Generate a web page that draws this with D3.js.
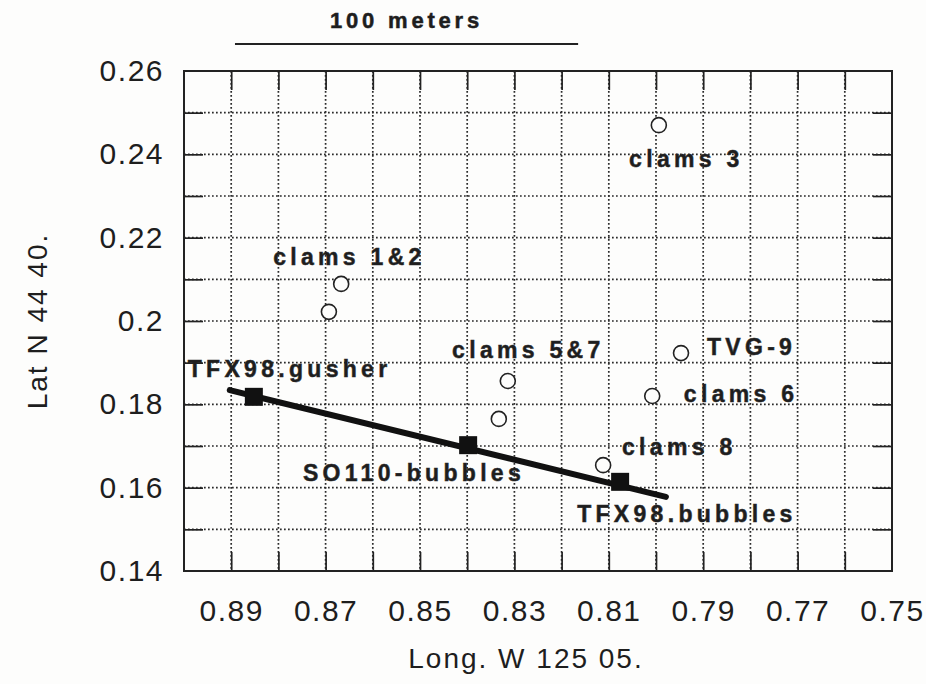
<!DOCTYPE html>
<html>
<head>
<meta charset="utf-8">
<script src="https://cdn.jsdelivr.net/npm/d3@7"></script>
<style>
body { margin: 0; background: #fff; }
text { font-family: "Liberation Sans", Arial, Helvetica, sans-serif; fill: #1e1e1e; }
</style>
</head>
<body>
<svg id="chart" width="926" height="684"></svg>
<script>
// clam sites (open circles)
const clamLon = [0.8667, 0.8693, 0.8314, 0.8333, 0.7994, 0.7947, 0.8008, 0.8112]
const clamLat = [0.2089, 0.2022, 0.1856, 0.1765, 0.2470, 0.1923, 0.1820, 0.1654]

// bubble / gusher sites (filled squares)
const ventNames = ['TFX98.gusher', 'SO110-bubbles', 'TFX98.bubbles']
const ventLon = [0.8852, 0.8398, 0.8076]
const ventLat = [0.1818, 0.1702, 0.1614]

// trend line through the vents
const trendLon = [0.8903, 0.7979]
const trendLat = [0.1834, 0.1578]

// text annotations, anchored at their start / baseline
const labelText = ['TFX98.gusher', 'clams 1&2', 'clams 5&7', 'SO110-bubbles', 'TFX98.bubbles',
                   'clams 8', 'clams 6', 'TVG-9', 'clams 3']
const labelLon = [0.8992, 0.8811, 0.8432, 0.8748, 0.8167, 0.8072, 0.7941, 0.7892, 0.8057]
const labelLat = [0.1866, 0.2134, 0.1911, 0.1616, 0.1518, 0.1678, 0.1806, 0.1918, 0.2370]

// 100 m scale bar
const scaleBarLon = [0.8892, 0.8165]
const scaleBarText = '100  meters'

// ticks
const lonTicks = [0.89, 0.88, 0.87, 0.86, 0.85, 0.84, 0.83, 0.82, 0.81, 0.80, 0.79, 0.78, 0.77, 0.76]
const lonLabelValues = [0.89, 0.87, 0.85, 0.83, 0.81, 0.79, 0.77, 0.75]
const lonLabelText = ['0.89', '0.87', '0.85', '0.83', '0.81', '0.79', '0.77', '0.75']
const latTicks = [0.15, 0.16, 0.17, 0.18, 0.19, 0.20, 0.21, 0.22, 0.23, 0.24, 0.25]
const latLabelValues = [0.14, 0.16, 0.18, 0.20, 0.22, 0.24, 0.26]
const latLabelText = ['0.14', '0.16', '0.18', '0.2', '0.22', '0.24', '0.26']

const xTitle = 'Long. W 125 05.'
const yTitle = 'Lat N 44 40.'

const svg = d3.select('#chart')
const plotLeft = 184, plotRight = 892, plotTop = 71, plotBottom = 571

const x = d3.scaleLinear().domain([0.90, 0.75]).range([plotLeft, plotRight])
const y = d3.scaleLinear().domain([0.14, 0.26]).range([plotBottom, plotTop])

svg.append('rect')
.attr('width', 926)
.attr('height', 684)
.attr('fill', '#fdfdfc')

////////////////////////////
/// dotted grid
////////////////////////////
const grid = svg.append('g')
.attr('stroke', '#2a2a2a')
.attr('stroke-width', 1.7)
.attr('stroke-dasharray', '1.7,2.3')

grid.selectAll('.vgrid')
.data(lonTicks)
.enter()
.append('line')
.attr('x1', d => x(d))
.attr('x2', d => x(d))
.attr('y1', plotTop)
.attr('y2', plotBottom)

grid.selectAll('.hgrid')
.data(latTicks)
.enter()
.append('line')
.attr('x1', plotLeft)
.attr('x2', plotRight)
.attr('y1', d => y(d))
.attr('y2', d => y(d))

////////////////////////////
/// inward tick marks on all four sides
////////////////////////////
const tick = 19
function styleAxis(g){
    g.select('.domain').remove()
    g.selectAll('line').attr('stroke', '#222').attr('stroke-width', 1.7)
    g.selectAll('text').remove()
}
svg.append('g').attr('transform', 'translate(0,' + plotBottom + ')')
.call(d3.axisBottom(x).tickValues(lonTicks).tickSize(-tick)).call(styleAxis)
svg.append('g').attr('transform', 'translate(0,' + plotTop + ')')
.call(d3.axisTop(x).tickValues(lonTicks).tickSize(-tick)).call(styleAxis)
svg.append('g').attr('transform', 'translate(' + plotLeft + ',0)')
.call(d3.axisLeft(y).tickValues(latTicks).tickSize(-tick)).call(styleAxis)
svg.append('g').attr('transform', 'translate(' + plotRight + ',0)')
.call(d3.axisRight(y).tickValues(latTicks).tickSize(-tick)).call(styleAxis)

// frame
svg.append('rect')
.attr('x', plotLeft)
.attr('y', plotTop)
.attr('width', plotRight - plotLeft)
.attr('height', plotBottom - plotTop)
.attr('fill', 'none')
.attr('stroke', '#222')
.attr('stroke-width', 2)

////////////////////////////
/// tick labels
////////////////////////////
const xLab = svg.append('g')
.attr('transform', 'translate(0,' + plotBottom + ')')
.call(d3.axisBottom(x).tickValues(lonLabelValues).tickSize(0).tickPadding(29)
    .tickFormat((d, i) => lonLabelText[i]))
xLab.select('.domain').remove()
xLab.selectAll('text')
.attr('font-size', 30)
.attr('letter-spacing', 1.5)
.attr('fill', '#1e1e1e')

const yLab = svg.append('g')
.attr('transform', 'translate(' + plotLeft + ',0)')
.call(d3.axisLeft(y).tickValues(latLabelValues).tickSize(0).tickPadding(20)
    .tickFormat((d, i) => latLabelText[i]))
yLab.select('.domain').remove()
yLab.selectAll('text')
.attr('font-size', 30)
.attr('letter-spacing', 1.5)
.attr('fill', '#1e1e1e')

// axis titles
svg.append('text')
.attr('x', (plotLeft + plotRight) / 2 - 12)
.attr('y', 668)
.attr('text-anchor', 'middle')
.attr('font-size', 28)
.attr('letter-spacing', 2)
.text(xTitle)

svg.append('text')
.attr('transform', 'translate(47,' + ((plotTop + plotBottom) / 2) + ') rotate(-90)')
.attr('text-anchor', 'middle')
.attr('font-size', 28)
.attr('letter-spacing', 2)
.text(yTitle)

////////////////////////////
/// scale bar
////////////////////////////
svg.append('line')
.attr('x1', x(scaleBarLon[0]))
.attr('x2', x(scaleBarLon[1]))
.attr('y1', 44)
.attr('y2', 44)
.attr('stroke', '#222')
.attr('stroke-width', 1.8)

svg.append('text')
.attr('x', (x(scaleBarLon[0]) + x(scaleBarLon[1])) / 2)
.attr('y', 28)
.attr('text-anchor', 'middle')
.attr('font-size', 22)
.attr('font-weight', 'bold')
.attr('letter-spacing', 3.8)
.attr('stroke', '#1e1e1e')
.attr('stroke-width', 0.5)
.text(scaleBarText)

////////////////////////////
/// trend line, vents, clams
////////////////////////////
const trend = trendLon.map((d, i) => [d, trendLat[i]])
svg.append('path')
.datum(trend)
.attr('d', d3.line().x(d => x(d[0])).y(d => y(d[1])))
.attr('stroke', '#111')
.attr('stroke-width', 6)
.attr('stroke-linecap', 'round')
.attr('fill', 'none')

const sq = 18
svg.selectAll('.vent')
.data(ventLon)
.enter()
.append('rect')
.attr('class', 'vent')
.attr('x', d => x(d) - sq / 2)
.attr('y', (d, i) => y(ventLat[i]) - sq / 2)
.attr('width', sq)
.attr('height', sq)
.attr('fill', '#111')

svg.selectAll('.clam')
.data(clamLon)
.enter()
.append('circle')
.attr('class', 'clam')
.attr('cx', d => x(d))
.attr('cy', (d, i) => y(clamLat[i]))
.attr('r', 7.5)
.attr('fill', '#fdfdfc')
.attr('stroke', '#222')
.attr('stroke-width', 1.6)

svg.selectAll('.site')
.data(labelText)
.enter()
.append('text')
.attr('class', 'site')
.attr('x', (d, i) => x(labelLon[i]))
.attr('y', (d, i) => y(labelLat[i]))
.attr('font-size', 23)
.attr('font-weight', 'bold')
.attr('letter-spacing', 4.3)
.attr('fill', '#2a2a2a')
.attr('stroke', '#2a2a2a')
.attr('stroke-width', 0.5)
.text(d => d)
</script>
</body>
</html>
